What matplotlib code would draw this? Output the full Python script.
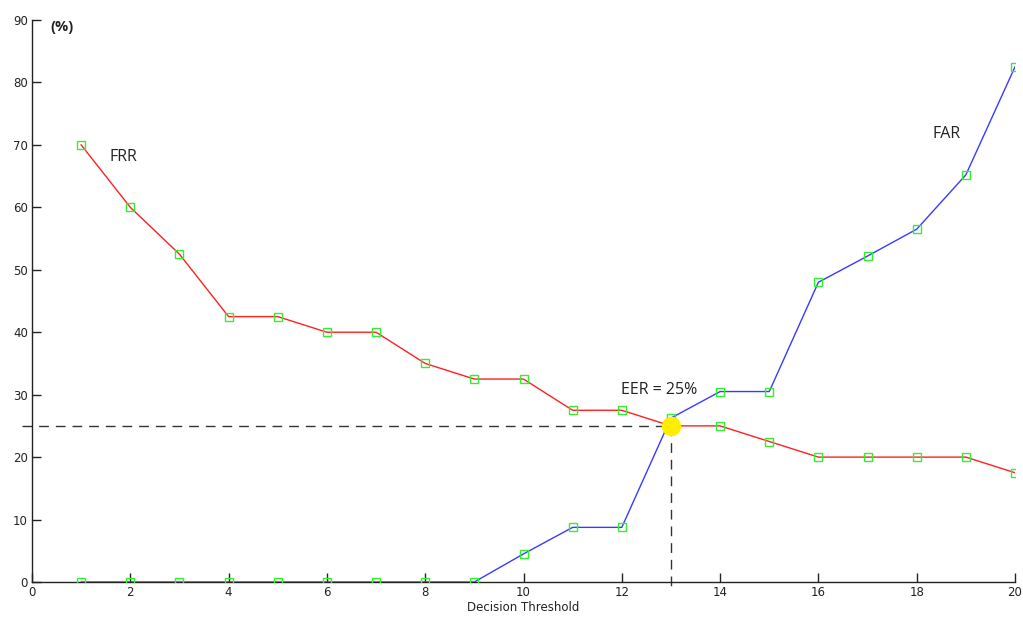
import matplotlib
matplotlib.use("Agg")
import matplotlib.pyplot as plt

thresholds = list(range(1, 21))
frr = [70, 60, 52.5, 42.5, 42.5, 40, 40, 35, 32.5, 32.5,
       27.5, 27.5, 25, 25, 22.5, 20, 20, 20, 20, 17.5]
far = [0, 0, 0, 0, 0, 0, 0, 0, 0, 4.5,
       8.75, 8.75, 26.25, 30.5, 30.5, 48, 52.2, 56.5, 65.2, 82.5]
eer_x, eer_y = 13, 25
xticks = list(range(0, 21, 2))
yticks = list(range(0, 91, 10))

fig = plt.figure(figsize=(10.23, 6.17), dpi=100)
ax = fig.add_axes([32 / 1023, 1 - 582 / 617, 983 / 1023, 562 / 617])

ax.plot(thresholds, frr, color="#ff2020", lw=1.0, zorder=3)
ax.plot(thresholds, far, color="#3a3aff", lw=1.0, zorder=3)
mk = dict(ls="none", marker="s", ms=6.3, mfc="none", mec="#33ee33", mew=1.0, zorder=4)
ax.plot(thresholds, frr, **mk)
ax.plot(thresholds, far, **mk)

# equal error rate guide lines and point
ax.plot([-0.2, eer_x], [eer_y, eer_y], color="#333333", lw=1.0,
        dashes=(7, 5), clip_on=False, zorder=2)
ax.plot([eer_x, eer_x], [eer_y, -1.1], color="#333333", lw=1.0,
        dashes=(7, 5), clip_on=False, zorder=2)
ax.plot([eer_x], [eer_y], marker="o", ms=13, color="#ffee00", mec="#ffee00", zorder=5)

tf = dict(family="Open Sans", fontsize=11.5, color="#222222")
ax.text(1.85, 68.1, "FRR", ha="center", va="center", **tf)
ax.text(18.6, 71.7, "FAR", ha="center", va="center", **tf)
ax.text(12.76, 30.75, "EER = 25%", ha="center", va="center", **tf)
ax.text(0.61, 88.9, "(%)", ha="center", va="center", family="Open Sans",
        fontsize=10.5, fontweight="bold", color="#222222")

ax.set_xlim(0, 20)
ax.set_ylim(0, 90)
ax.set_xticks(xticks)
ax.set_yticks(yticks)
for s in ("top", "right"):
    ax.spines[s].set_visible(False)
for s in ("left", "bottom"):
    ax.spines[s].set_color("#222222")
    ax.spines[s].set_linewidth(1.0)
ax.tick_params(direction="in", length=6.5, width=1.0, color="#222222",
               labelsize=8.5, labelcolor="#222222", pad=3)
ax.set_xlabel("Decision Threshold", fontsize=8.5, color="#222222", labelpad=1)

fig.savefig("out.png", dpi=100)
